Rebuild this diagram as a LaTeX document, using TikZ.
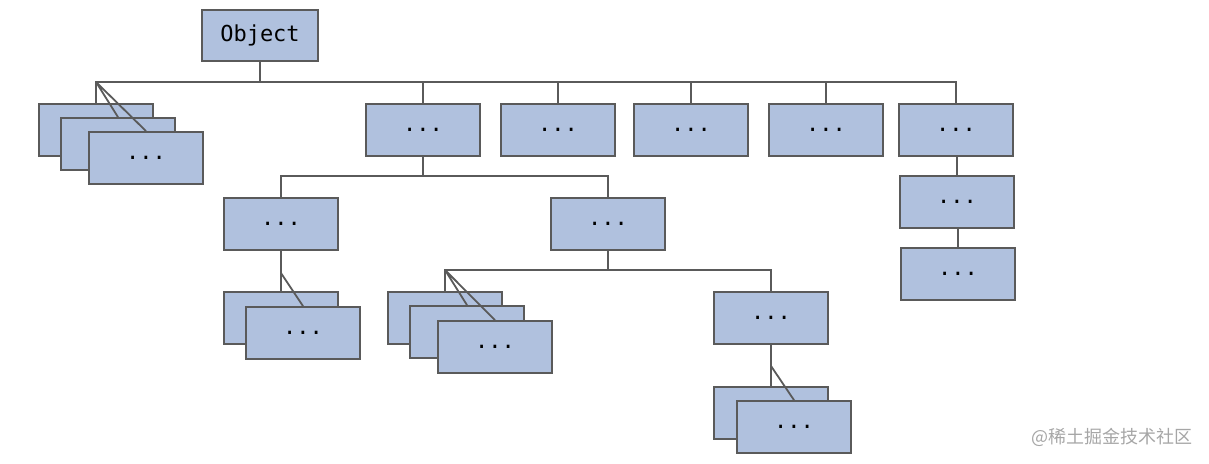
\documentclass[tikz,border=0pt]{standalone}
\usepackage{fontspec}
\setmonofont{DejaVu Sans Mono}
\newfontfamily\cjk{Noto Sans CJK SC}
\definecolor{clsfill}{RGB}{176,193,222}
\definecolor{clsedge}{RGB}{90,90,90}

\begin{document}
\begin{tikzpicture}[x=1pt,y=-1pt,
    cls/.style={draw=clsedge,fill=clsfill,line width=1.8pt,
        minimum width=114pt,minimum height=52pt,inner sep=0pt,
        font={\fontsize{22}{22}\ttfamily}},
    link/.style={draw=clsedge,line width=1.8pt}]
\useasboundingbox(0,0) rectangle (1209,463);

\node[cls,minimum width=116pt,minimum height=51pt](obj) at (260,35.5){Object};

%stack under the top bus
\node[cls](a1) at (96,130){};
\node[cls](a2) at (118,144){};
\node[cls](a3) at (146,158){...};

\foreach \n/\x in {b1/423,b2/558,b3/691,b4/826,b5/956}
    \node[cls](\n) at (\x,130){...};

\node[cls](c1) at (281,224){...};
\node[cls](c2) at (608,224){...};

\node[cls](d1) at (281,318){};
\node[cls](d2) at (303,333){...};

\node[cls](e1) at (445,318){};
\node[cls](e2) at (467,332){};
\node[cls](e3) at (495,347){...};

\node[cls](f1) at (771,318){...};
\node[cls](g1) at (771,413){};
\node[cls](g2) at (794,427){...};

\node[cls](h2) at (957,202){...};
\node[cls](h3) at (958,274){...};

%connectors
\coordinate(bus) at (260,82);
\coordinate(bl) at (96,82);
\draw[link](obj.south)--(bus);
\draw[link](a1.north)|-(bus)-|(b5.north);
\draw[link](bl)--(a2.north) (bl)--(a3.north);
\foreach \n in {b1,b2,b3,b4}
    \draw[link](\n.north)--(\n.north|-bus);

\coordinate(cj) at (423,176);
\draw[link](b1.south)--(cj);
\draw[link](c1.north)|-(cj)-|(c2.north);

\coordinate(dj) at (281,273);
\draw[link](c1.south)--(d1.north) (dj)--(d2.north);

\coordinate(ej) at (608,270);
\coordinate(el) at (445,270);
\draw[link](c2.south)--(ej);
\draw[link](e1.north)|-(ej)-|(f1.north);
\draw[link](el)--(e2.north) (el)--(e3.north);

\coordinate(gj) at (771,366);
\draw[link](f1.south)--(g1.north) (gj)--(g2.north);

\draw[link](h2.north)--(h2.north|-b5.south) (h3.north)--(h3.north|-h2.south);

\node[text=black!35,font={\fontsize{18}{18}\cjk},anchor=east](mark) at (1196,437){@稀土掘金技术社区};
\end{tikzpicture}
\end{document}
